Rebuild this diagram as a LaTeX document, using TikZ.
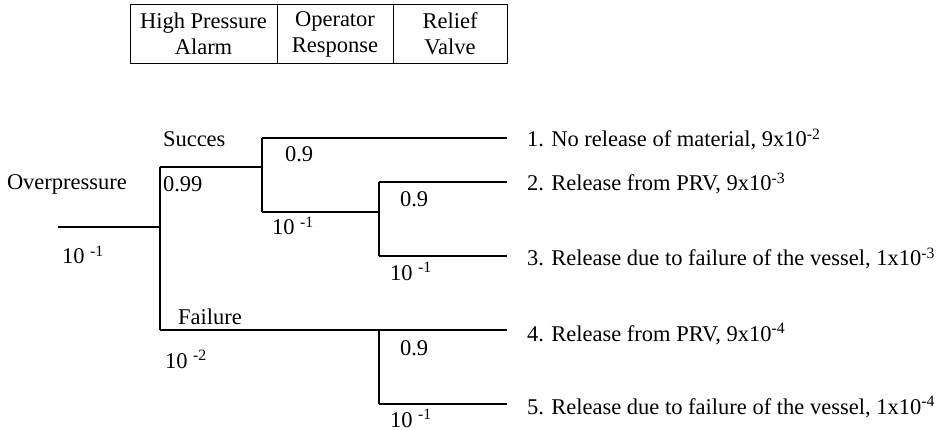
\documentclass[tikz,border=0pt]{standalone}
\usepackage{fontspec}
\setmainfont{Liberation Serif}
\begin{document}
\begin{tikzpicture}[x=1pt,y=-1pt,
  every node/.style={font=\fontsize{22.5}{26}\selectfont, inner sep=0pt, outer sep=0pt},
  lbl/.style={anchor=base west},
  cell/.style={draw, line width=1pt, align=center, minimum height=59pt},
  branch/.style={line width=1.1pt}]
\useasboundingbox (0,0) rectangle (942,430);
% header table
\node[cell, minimum width=147pt] (c1) at (203.5,34) {High Pressure\\Alarm};
\node[cell, minimum width=116pt] (c2) at (335,34) {Operator\\Response};
\node[cell, minimum width=114pt] (c3) at (450,34) {Relief\\Valve};
% tree points
\coordinate (r0) at (58,227);
\coordinate (r1) at (160,227);
\coordinate (s0) at (160,167);
\coordinate (f0) at (160,330);
\coordinate (s1) at (262,167);
\coordinate (s2) at (262,138);
\coordinate (s3) at (262,212);
\coordinate (t1) at (379,212);
\coordinate (t2) at (379,182);
\coordinate (t3) at (379,256);
\coordinate (u1) at (379,330);
\coordinate (u2) at (379,404);
\coordinate (e1) at (507,138);
\coordinate (e2) at (507,182);
\coordinate (e3) at (507,256);
\coordinate (e4) at (507,330);
\coordinate (e5) at (507,404);
% branches
\draw[branch] (r0) -- (r1);
\draw[branch] (s0) -- (f0);
\draw[branch] (s0) -- (s1);
\draw[branch] (s2) -- (s3);
\draw[branch] (s2) -- (e1);
\draw[branch] (s3) -- (t1);
\draw[branch] (t2) -- (t3);
\draw[branch] (t2) -- (e2);
\draw[branch] (t3) -- (e3);
\draw[branch] (f0) -- (e4);
\draw[branch] (u1) -- (u2);
\draw[branch] (u2) -- (e5);
% labels
\node[lbl] (lop) at (7,190) {Overpressure};
\node[lbl] (lp0) at (62,264) {10 \textsuperscript{-1}};
\node[lbl] (lsu) at (163,147) {Succes};
\node[lbl] (l99) at (163,192) {0.99};
\node[lbl] (lfa) at (178,324) {Failure};
\node[lbl] (lp2) at (165,368) {10 \textsuperscript{-2}};
\node[lbl] (la9) at (285,162) {0.9};
\node[lbl] (la1) at (272,235) {10 \textsuperscript{-1}};
\node[lbl] (lb9) at (400,207) {0.9};
\node[lbl] (lb1) at (390,280) {10 \textsuperscript{-1}};
\node[lbl] (lc9) at (400,355) {0.9};
\node[lbl] (lc1) at (390,427) {10 \textsuperscript{-1}};
% outcomes
\node[lbl] (o1) at (527,147) {1. No release of material, 9x10\textsuperscript{-2}};
\node[lbl] (o2) at (527,191) {2. Release from PRV, 9x10\textsuperscript{-3}};
\node[lbl] (o3) at (527,266) {3. Release due to failure of the vessel, 1x10\textsuperscript{-3}};
\node[lbl] (o4) at (527,341) {4. Release from PRV, 9x10\textsuperscript{-4}};
\node[lbl] (o5) at (527,414) {5. Release due to failure of the vessel, 1x10\textsuperscript{-4}};
\end{tikzpicture}
\end{document}
